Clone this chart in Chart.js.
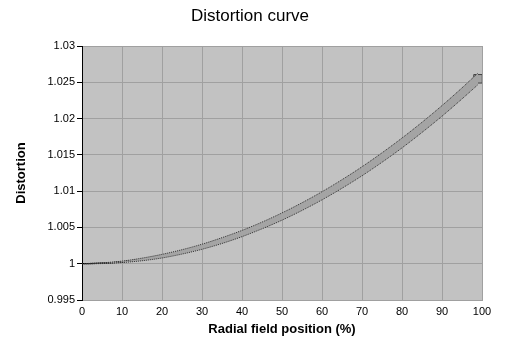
<!DOCTYPE html>
<html>
<head>
<meta charset="utf-8">
<script src="https://cdn.jsdelivr.net/npm/chart.js@4/dist/chart.umd.min.js"></script>
<style>
  html, body { margin: 0; padding: 0; background: #fff; }
  #wrap { width: 512px; height: 351px; }
</style>
</head>
<body>
<div id="wrap"><canvas id="chart"></canvas></div>
<script>
// radial field position (%)
const positions = [0, 5, 10, 15, 20, 25, 30, 35, 40, 45, 50, 55, 60, 65, 70, 75, 80, 85, 90, 95, 99];
// distortion, centre curve
const distortion = [1.00000, 1.00007, 1.00026, 1.00059, 1.00104, 1.00163, 1.00234, 1.00319, 1.00416, 1.00527,
  1.00650, 1.00787, 1.00936, 1.01099, 1.01274, 1.01463, 1.01664, 1.01879, 1.02106, 1.02347, 1.02548];
// upper and lower edge of the grey band
const upperEdge = [1.00000, 1.00012, 1.00036, 1.00077, 1.00129, 1.00193, 1.00269, 1.00359, 1.00459, 1.00573,
  1.00700, 1.00840, 1.00992, 1.01158, 1.01336, 1.01528, 1.01732, 1.01949, 1.02179, 1.02423, 1.02628];
const lowerEdge = [1.00000, 1.00002, 1.00016, 1.00041, 1.00079, 1.00133, 1.00199, 1.00279, 1.00373, 1.00481,
  1.00600, 1.00734, 1.00880, 1.01040, 1.01212, 1.01398, 1.01596, 1.01809, 1.02033, 1.02271, 1.02468];

const xTicks = [0, 10, 20, 30, 40, 50, 60, 70, 80, 90, 100];
const yTicks = [0.995, 1, 1.005, 1.01, 1.015, 1.02, 1.025, 1.03];

const FONT = 'Liberation Sans, Arial, sans-serif';

const toPoints = (ys) => ys.map((y, i) => ({ x: positions[i], y: y }));

// grey plot area like the old Excel charts
const plotBackground = {
  id: 'plotBackground',
  beforeDraw(chart) {
    const { ctx, chartArea: a } = chart;
    ctx.save();
    ctx.fillStyle = '#c2c2c2';
    ctx.fillRect(a.left, a.top, a.right - a.left, a.bottom - a.top);
    ctx.restore();
  }
};

// chart title, centred on the page rather than the plot
const chartTitle = {
  id: 'chartTitle',
  afterDraw(chart) {
    const ctx = chart.ctx;
    ctx.save();
    ctx.font = '17px ' + FONT;
    ctx.fillStyle = '#000';
    ctx.textAlign = 'center';
    ctx.textBaseline = 'middle';
    ctx.fillText('Distortion curve', 250, 16);
    ctx.restore();
  }
};

const last = positions.length - 1;

new Chart(document.getElementById('chart'), {
  type: 'line',
  data: {
    datasets: [
      {
        data: toPoints(upperEdge),
        borderColor: '#303030',
        borderWidth: 1,
        borderDash: [1, 1],
        pointRadius: 0,
        cubicInterpolationMode: 'monotone',
        fill: false,
      },
      {
        data: toPoints(lowerEdge),
        borderColor: '#303030',
        borderWidth: 1,
        borderDash: [1, 1],
        backgroundColor: '#a4a4a4',
        pointRadius: 0,
        cubicInterpolationMode: 'monotone',
        fill: '-1',
      },
      {
        data: toPoints(distortion),
        borderColor: '#000000',
        borderWidth: 1.2,
        cubicInterpolationMode: 'monotone',
        pointStyle: 'rect',
        pointRadius: (c) => c.dataIndex === last ? 6 : 0,
        pointBackgroundColor: '#a4a4a4',
        pointBorderColor: '#404040',
        pointBorderWidth: 1,
        fill: false,
      }
    ]
  },
  options: {
    responsive: true,
    maintainAspectRatio: false,
    animation: false,
    layout: { padding: { left: 0, right: 30, top: 46, bottom: 0 } },
    plugins: {
      legend: { display: false },
      tooltip: { enabled: false },
      title: { display: false }
    },
    scales: {
      x: {
        type: 'linear',
        min: 0,
        max: 100,
        afterBuildTicks: (s) => { s.ticks = xTicks.map(v => ({ value: v })); },
        afterFit: (s) => { s.height = 51; },
        grid: { color: '#a0a0a0', drawTicks: false },
        border: { color: '#a0a0a0' },
        ticks: {
          color: '#000',
          padding: 5,
          maxRotation: 0,
          font: { family: FONT, size: 11 }
        },
        title: {
          display: true,
          text: 'Radial field position (%)',
          color: '#000',
          font: { family: FONT, size: 13, weight: 'bold' },
          padding: { top: 0, bottom: 14 }
        }
      },
      y: {
        min: 0.995,
        max: 1.03,
        afterBuildTicks: (s) => { s.ticks = yTicks.map(v => ({ value: v })); },
        afterFit: (s) => { s.width = 82; },
        grid: { color: '#a0a0a0', tickColor: '#000', tickLength: 5 },
        border: { color: '#000' },
        ticks: {
          color: '#000',
          padding: 2,
          font: { family: FONT, size: 11 },
          callback: (v) => String(Number(v.toFixed(3)))
        },
        title: {
          display: true,
          text: 'Distortion',
          color: '#000',
          font: { family: FONT, size: 13, weight: 'bold' },
          padding: { top: 14, bottom: 0 }
        }
      }
    }
  },
  plugins: [plotBackground, chartTitle]
});
</script>
</body>
</html>
